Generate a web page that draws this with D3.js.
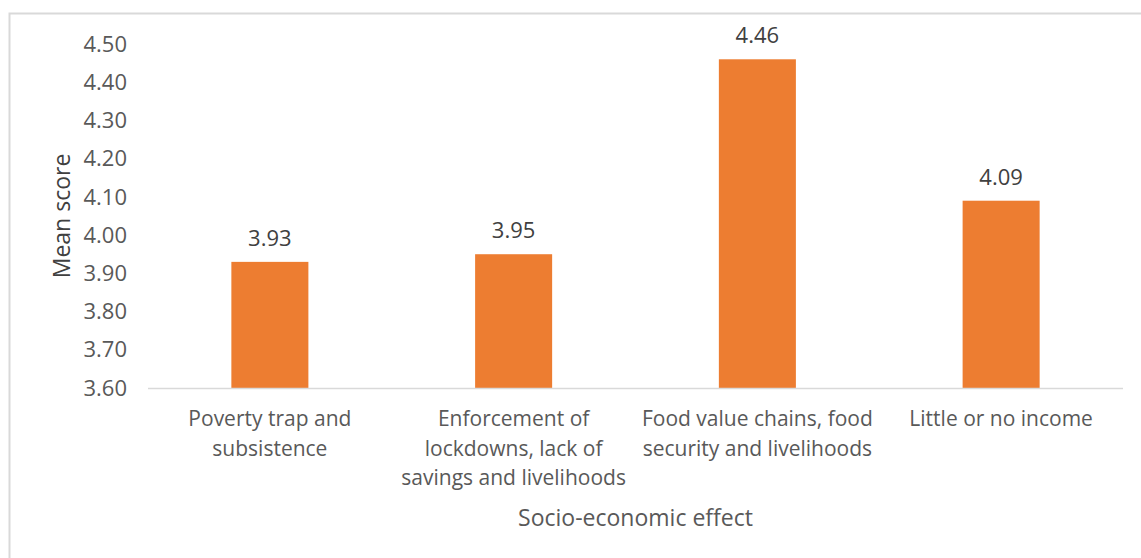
<!DOCTYPE html>
<html>
<head>
<meta charset="utf-8">
<script src="https://cdn.jsdelivr.net/npm/d3@7"></script>
<style>
  body { margin: 0; background: #fff; }
  text { font-family: "Open Sans", "Noto Sans", sans-serif; }
</style>
</head>
<body>
<div id="chart"></div>
<script>
// data
const categories = [
    ["Poverty trap and", "subsistence"],
    ["Enforcement of", "lockdowns, lack of", "savings and livelihoods"],
    ["Food value chains, food", "security and livelihoods"],
    ["Little or no income"]
];
const meanScores = [3.93, 3.95, 4.46, 4.09];
const yTicks = [3.6, 3.7, 3.8, 3.9, 4.0, 4.1, 4.2, 4.3, 4.4, 4.5];

const width = 1141, height = 558;
const margin = { top: 44, right: 18, bottom: 170, left: 148 };

const svg = d3.select("#chart")
    .append("svg")
    .attr("width", width)
    .attr("height", height);

// chart area border
svg.append("rect")
    .attr("x", 9.5)
    .attr("y", 13.5)
    .attr("width", width + 10)
    .attr("height", height + 10)
    .attr("fill", "none")
    .attr("stroke", "#d9d9d9")
    .attr("stroke-width", 2);

const x = d3.scaleBand()
    .domain(d3.range(categories.length))
    .range([margin.left, width - margin.right])
    .paddingInner(0.684)
    .paddingOuter(0.342);

const y = d3.scaleLinear()
    .domain([3.6, 4.5])
    .range([height - margin.bottom, margin.top]);

// y tick labels (no axis line)
svg.append("g")
    .selectAll("text")
    .data(yTicks)
    .enter()
    .append("text")
    .attr("x", 127)
    .attr("y", d => y(d))
    .attr("dy", "0.35em")
    .attr("text-anchor", "end")
    .attr("fill", "#595959")
    .style("font-size", "22px")
    .text(d => d.toFixed(2));

// bars
svg.append("g")
    .selectAll("rect")
    .data(meanScores)
    .enter()
    .append("rect")
    .attr("x", (d, i) => x(i))
    .attr("y", d => y(d))
    .attr("width", x.bandwidth())
    .attr("height", d => y(3.6) - y(d))
    .attr("fill", "#ed7d31");

// baseline
svg.append("line")
    .attr("x1", margin.left)
    .attr("x2", width - margin.right)
    .attr("y1", y(3.6) + 0.5)
    .attr("y2", y(3.6) + 0.5)
    .attr("stroke", "#d9d9d9")
    .attr("stroke-width", 1.5);

// value labels
svg.append("g")
    .selectAll("text")
    .data(meanScores)
    .enter()
    .append("text")
    .attr("x", (d, i) => x(i) + x.bandwidth() / 2)
    .attr("y", d => y(d) - 16)
    .attr("text-anchor", "middle")
    .attr("fill", "#404040")
    .style("font-size", "22px")
    .text(d => d.toFixed(2));

// category labels, wrapped like the original
const catLabels = svg.append("g")
    .selectAll("text")
    .data(categories)
    .enter()
    .append("text")
    .attr("text-anchor", "middle")
    .attr("fill", "#595959")
    .style("font-size", "21px")
    .attr("transform", (d, i) => `translate(${x(i) + x.bandwidth() / 2}, ${y(3.6) + 38})`);

catLabels.selectAll("tspan")
    .data(d => d)
    .enter()
    .append("tspan")
    .attr("x", 0)
    .attr("y", (d, j) => j * 29.5)
    .text(d => d);

// axis titles
svg.append("text")
    .attr("transform", `translate(${(margin.left + width - margin.right) / 2}, 526)`)
    .style("text-anchor", "middle")
    .style("font-size", "23px")
    .attr("fill", "#595959")
    .text("Socio-economic effect");

svg.append("text")
    .attr("transform", `translate(70, ${(y(3.6) + y(4.5)) / 2}) rotate(-90)`)
    .style("text-anchor", "middle")
    .style("font-size", "23px")
    .attr("fill", "#404040")
    .text("Mean score");
</script>
</body>
</html>
